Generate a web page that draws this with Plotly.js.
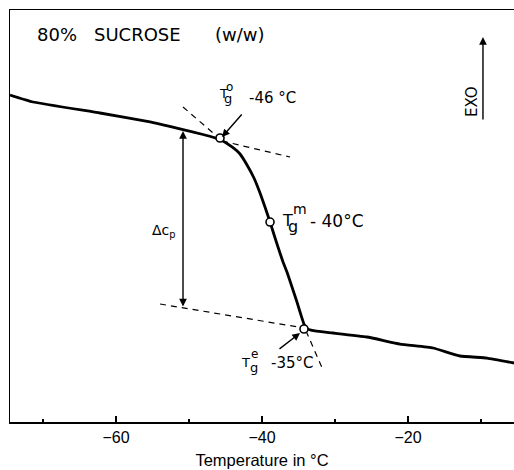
<!DOCTYPE html>
<html>
<head>
<meta charset="utf-8">
<script src="https://cdn.plot.ly/plotly-3.0.1.min.js"></script>
<style>html,body{margin:0;padding:0;background:#fff;}</style>
</head>
<body>
<div id="chart" style="width:514px;height:470px;"></div>
<script>
// DSC trace of 80% sucrose (w/w): temperature (°C) vs heat flow (arbitrary units, EXO up)
const temperature = [-74.52,-71.37,-62.19,-55.34,-50.96,-48.08,-46.58,-45.48,-44.11,-43.01,-42.05,-41.10,-40.27,-39.59,-38.90,-38.36,-37.81,-37.12,-36.58,-35.89,-35.21,-34.66,-34.25,-33.84,-32.74,-30.27,-25.62,-21.10,-16.58,-12.88,-9.18,-5.48];
const heatFlow    = [79.37,77.67,75.00,72.82,71.00,69.78,69.05,68.33,66.75,65.05,62.38,59.22,55.58,52.18,48.54,45.51,42.48,38.83,36.41,32.77,29.13,25.97,23.79,22.69,22.09,21.60,20.63,18.93,17.96,16.02,15.53,14.32];

// characteristic glass transition points (onset, midpoint, end)
const tgLabels = ["Tg°","Tgm","Tge"];
const tgTemp   = [-45.75,-38.90,-34.25];
const tgFlow   = [68.93,48.54,22.57];

// tangent construction lines
const onsetSteepX = [-50.82,-45.75], onsetSteepY = [76.46,68.69];
const onsetBaseX  = [-45.48,-36.16], onsetBaseY  = [68.20,64.32];
const endBaseX    = [-53.97,-34.25], endBaseY    = [28.64,22.82];
const endSteepX   = [-33.97,-31.64], endSteepY   = [22.09,12.62];

// x axis ticks
const majorTicks = [-60,-40,-20];
const majorTickText = ["\u221260","\u221240","\u221220"];
const minorTicks = [-70,-50,-30,-10];

const dashStyle = {color:'#000', width:1.2, dash:'6px,5px'};
const traces = [
  {x:onsetSteepX, y:onsetSteepY, mode:'lines', line:dashStyle, hoverinfo:'skip'},
  {x:onsetBaseX, y:onsetBaseY, mode:'lines', line:dashStyle, hoverinfo:'skip'},
  {x:endBaseX, y:endBaseY, mode:'lines', line:dashStyle, hoverinfo:'skip'},
  {x:endSteepX, y:endSteepY, mode:'lines', line:dashStyle, hoverinfo:'skip'},
  {x:temperature, y:heatFlow, mode:'lines', line:{color:'#000', width:2.8, shape:'spline', smoothing:0.35}},
  {x:tgTemp, y:tgFlow, text:tgLabels, mode:'markers', marker:{symbol:'circle', size:8, color:'#fff', line:{color:'#000', width:1.6}}}
];

const lf = {family:'DejaVu Sans, sans-serif', color:'#000'};
function txt(x, y, t, size, xanchor, extra){
  return Object.assign({x:x, y:y, xref:'x', yref:'y', text:t, showarrow:false,
    xanchor:xanchor||'center', yanchor:'middle', font:Object.assign({}, lf, {size:size})}, extra||{});
}
function arrow(x, y, ax, ay, side){
  return {x:x, y:y, ax:ax, ay:ay, xref:'x', yref:'y', axref:'x', ayref:'y', text:'',
    showarrow:true, arrowhead:2, arrowsize:1.1, arrowwidth:1.4, arrowcolor:'#000', arrowside:side||'end',
    standoff:0, startstandoff:0};
}

const annotations = [
  txt(-71.10, 94.17, '80%', 18, 'left'),
  txt(-63.30, 94.17, 'SUCROSE', 18, 'left'),
  txt(-46.71, 94.17, '(w/w)', 18, 'left'),
  // Tg onset
  txt(-45.28, 79.85, 'T', 13),
  txt(-44.52, 81.43, 'o', 12),
  txt(-44.66, 78.40, 'g', 13),
  txt(-42.05, 78.64, '-46 °C', 15, 'left'),
  // Tg midpoint
  txt(-36.51, 49.03, 'T', 16),
  txt(-34.86, 51.70, 'm', 14),
  txt(-35.82, 47.45, 'g', 16),
  txt(-33.70, 48.79, '- 40°C', 17, 'left'),
  // Tg end
  txt(-42.30, 14.44, 'T', 13),
  txt(-41.05, 16.50, 'e', 12),
  txt(-41.10, 13.23, 'g', 13),
  txt(-39.04, 14.32, '-35°C', 15, 'left'),
  // Δcp
  txt(-55.34, 46.36, 'Δc<sub>p</sub>', 14, 'left'),
  // EXO
  txt(-11.23, 77.67, 'EXO', 15, 'center', {textangle:-90}),
  arrow(-50.82, 70.63, -50.82, 27.67, 'end+start'),
  arrow(-45.48, 69.17, -42.60, 75.00),
  arrow(-34.79, 21.60, -37.81, 17.48),
  arrow(-9.73, 93.45, -9.73, 73.06)
];

const layout = {
  width:514, height:470,
  margin:{l:10, r:0, t:10, b:48},
  paper_bgcolor:'#fff', plot_bgcolor:'#fff',
  showlegend:false,
  xaxis:{
    range:[-74.52,-5.48], showgrid:false, zeroline:false,
    showline:true, linecolor:'#000', linewidth:1.5, mirror:true,
    tickmode:'array', tickvals:majorTicks, ticktext:majorTickText,
    ticks:'inside', ticklen:6, tickwidth:1.5, tickcolor:'#000',
    minor:{tickmode:'array', tickvals:minorTicks, ticks:'inside', ticklen:3, tickwidth:1.2, tickcolor:'#000', showgrid:false},
    tickfont:{family:'Liberation Sans, Arial, sans-serif', size:16, color:'#000'},
    title:{text:'Temperature in °C', font:{family:'Liberation Sans, Arial, sans-serif', size:16.5, color:'#000'}, standoff:9}
  },
  yaxis:{
    range:[0,100], showgrid:false, zeroline:false, showticklabels:false, ticks:'',
    showline:true, linecolor:'#000', linewidth:1.5, mirror:false
  },
  annotations:annotations
};

Plotly.newPlot('chart', traces, layout, {staticPlot:true, displayModeBar:false});
</script>
</body>
</html>
